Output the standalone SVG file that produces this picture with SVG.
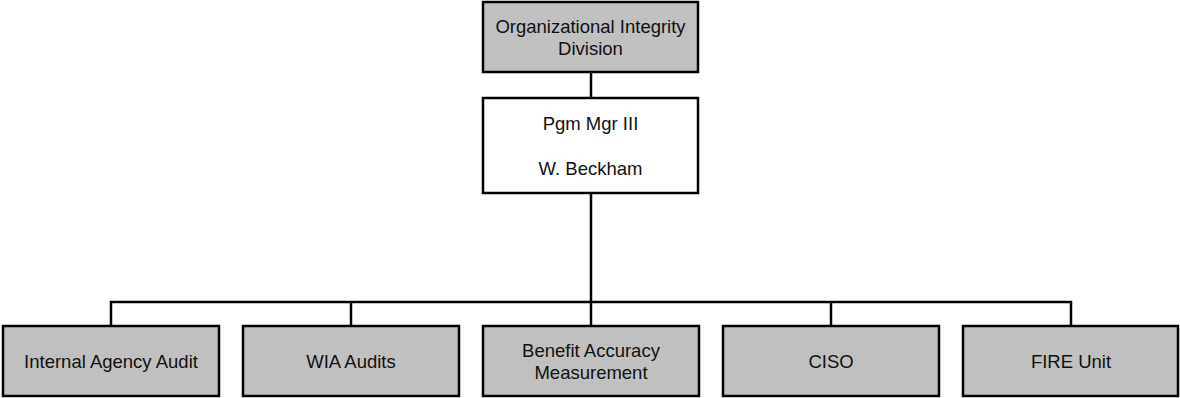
<svg xmlns="http://www.w3.org/2000/svg" width="1180" height="398" viewBox="0 0 1180 398">
  <style>
    .box { stroke: #000; stroke-width: 2.5; }
    .unit { fill: #c0c0c0; }
    .head { fill: #fff; }
    .lbl { font-family: "Liberation Sans", Arial, sans-serif; font-size: 18.5px; fill: #111; text-anchor: middle; }
    .wire { stroke: #000; stroke-width: 2.5; fill: none; }
  </style>

  <!-- connectors -->
  <g id="connectors">
    <line class="wire" x1="591" y1="72" x2="591" y2="98"/>
    <line class="wire" x1="591" y1="193" x2="591" y2="302"/>
    <polyline class="wire" points="111,326 111,302 1071,302 1071,326"/>
    <line class="wire" x1="351" y1="302" x2="351" y2="326"/>
    <line class="wire" x1="591" y1="302" x2="591" y2="326"/>
    <line class="wire" x1="831" y1="302" x2="831" y2="326"/>
  </g>

  <g id="division">
    <rect class="box unit" x="483" y="2" width="215" height="70"/>
    <text class="lbl" x="590.5" y="33">Organizational Integrity</text>
    <text class="lbl" x="590.5" y="55">Division</text>
  </g>

  <g id="manager">
    <rect class="box head" x="483" y="98" width="215" height="95"/>
    <text class="lbl" x="590.5" y="130">Pgm Mgr III</text>
    <text class="lbl" x="590.5" y="175">W. Beckham</text>
  </g>

  <g id="internal-agency-audit">
    <rect class="box unit" x="3" y="326" width="216" height="70"/>
    <text class="lbl" x="111" y="368">Internal Agency Audit</text>
  </g>

  <g id="wia-audits">
    <rect class="box unit" x="243" y="326" width="216" height="70"/>
    <text class="lbl" x="351" y="368">WIA Audits</text>
  </g>

  <g id="benefit-accuracy">
    <rect class="box unit" x="483" y="326" width="216" height="70"/>
    <text class="lbl" x="591" y="357">Benefit Accuracy</text>
    <text class="lbl" x="591" y="379">Measurement</text>
  </g>

  <g id="ciso">
    <rect class="box unit" x="723" y="326" width="216" height="70"/>
    <text class="lbl" x="831" y="368">CISO</text>
  </g>

  <g id="fire-unit">
    <rect class="box unit" x="963" y="326" width="215" height="70"/>
    <text class="lbl" x="1071" y="368">FIRE Unit</text>
  </g>
</svg>
